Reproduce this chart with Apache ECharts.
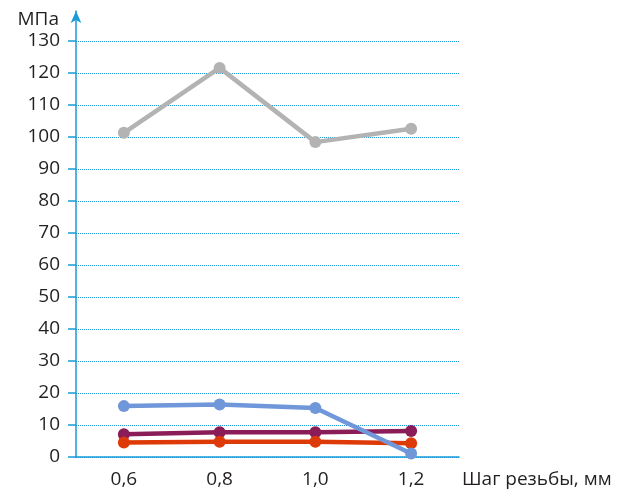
<!DOCTYPE html>
<html>
<head>
<meta charset="utf-8">
<script src="https://cdn.jsdelivr.net/npm/echarts@6/dist/echarts.min.js"></script>
<style>
  html, body { margin: 0; padding: 0; background: #fff; }
  #chart { width: 624px; height: 496px; }
</style>
</head>
<body>
<div id="chart"></div>
<script>
// Шаг резьбы, мм
const categories = ['0,6', '0,8', '1,0', '1,2'];

// значения, МПа
const seriesGray = [101.3, 121.6, 98.4, 102.6];
const seriesPurple = [7.1, 7.7, 7.7, 8.1];
const seriesRed = [4.5, 4.8, 4.8, 4.3];
const seriesBlue = [15.9, 16.4, 15.3, 1.1];

const axisColor = '#1a9ad6';
const textColor = '#231f20';
const font = '"Open Sans", sans-serif';

const chart = echarts.init(document.getElementById('chart'));

function lineSeries(data, color) {
    return {
        type: 'line',
        data: data,
        xAxisIndex: 0,
        yAxisIndex: 0,
        symbol: 'circle',
        symbolSize: 12,
        lineStyle: { color: color, width: 4.5 },
        itemStyle: { color: color },
        animation: false
    };
}

const option = {
    backgroundColor: '#ffffff',
    grid: [
        { left: 76, right: 165, top: 41, bottom: 39 },
        { left: 76, right: 165, top: 11, bottom: 39 } // только ось со стрелкой
    ],
    xAxis: [{
        type: 'category',
        gridIndex: 0,
        data: categories,
        boundaryGap: true,
        name: 'Шаг резьбы, мм',
        nameLocation: 'end',
        nameGap: 3,
        nameTextStyle: {
            color: textColor,
            fontSize: 19,
            fontFamily: font,
            verticalAlign: 'top',
            padding: [13, 0, 0, 0]
        },
        axisLine: { lineStyle: { color: axisColor, width: 1.5 } },
        axisTick: { show: false },
        axisLabel: { color: textColor, fontSize: 19, fontFamily: font, margin: 13 },
        splitLine: { show: false }
    }, {
        type: 'category',
        gridIndex: 1,
        data: categories,
        show: false
    }],
    yAxis: [{
        type: 'value',
        gridIndex: 0,
        min: 0,
        max: 130,
        interval: 10,
        name: 'МПа',
        nameLocation: 'end',
        nameGap: 12,
        nameTextStyle: {
            color: textColor,
            fontSize: 19,
            fontFamily: font,
            align: 'right',
            padding: [0, 17, 0, 0]
        },
        axisLine: { show: false },
        axisTick: { show: true, length: 8, lineStyle: { color: axisColor, width: 1.5 } },
        axisLabel: { color: textColor, fontSize: 19, fontFamily: font, margin: 16 },
        splitLine: { show: true, lineStyle: { color: axisColor, type: 'dotted', width: 1 } }
    }, {
        type: 'value',
        gridIndex: 1,
        min: 0,
        max: 1,
        axisLine: {
            show: true,
            symbol: ['none', 'arrow'],
            symbolSize: [8, 12],
            lineStyle: { color: axisColor, width: 1.5 }
        },
        axisTick: { show: false },
        axisLabel: { show: false },
        splitLine: { show: false }
    }],
    series: [
        lineSeries(seriesGray, '#b3b3b3'),
        lineSeries(seriesPurple, '#8a1c58'),
        lineSeries(seriesRed, '#dd3a08'),
        lineSeries(seriesBlue, '#6f97d9')
    ]
};

chart.setOption(option);
</script>
</body>
</html>
